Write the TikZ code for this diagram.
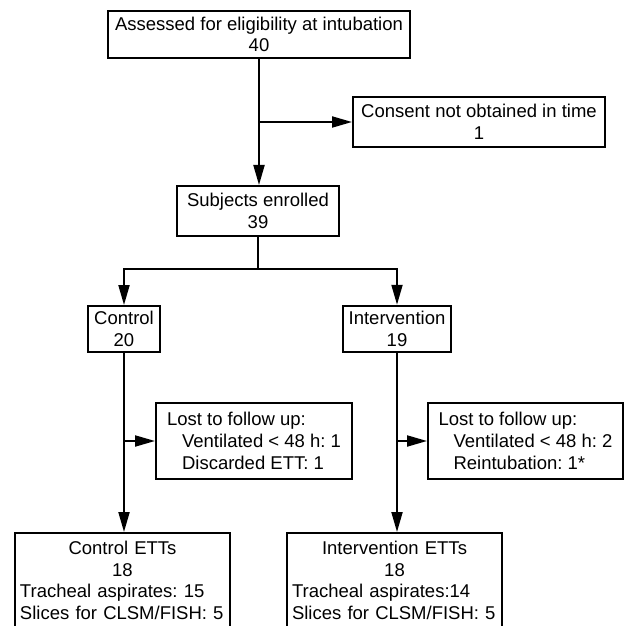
\documentclass[tikz,border=0pt]{standalone}
\usepackage{fontspec}
\setmainfont{Liberation Sans}
\usepackage{tikz}
\usetikzlibrary{arrows.meta}

\newcommand{\flowfont}{\fontsize{18.5bp}{21.7bp}\selectfont\frenchspacing}
\newcommand{\lostindent}{\hspace*{15bp}}

\begin{document}
\begin{tikzpicture}[x=1bp,y=-1bp,line width=2bp]
\tikzstyle{flowbox}=[draw,inner sep=0pt,align=center,font=\flowfont]
\tikzstyle{lostbox}=[flowbox,align=left,minimum width=196bp,minimum height=76bp]
\tikzstyle{ettbox}=[flowbox,align=left,text width=205bp,inner xsep=5bp,inner ysep=8bp,anchor=north]
\tikzstyle{flowarrow}=[line width=2bp,-{Triangle[length=20bp,width=11bp]}]

\useasboundingbox (0,0) rectangle (625,626);
\clip (0,0) rectangle (625,626);

% screening and enrolment
\node [flowbox,minimum width=302bp,minimum height=47bp] (assess) at (259,34.5)
    {Assessed for eligibility at intubation\\40};
\node [flowbox,minimum width=252bp,minimum height=50bp] (consent) at (479,122)
    {Consent not obtained in time\\1};
\node [flowbox,minimum width=162bp,minimum height=50bp] (enrolled) at (258,211)
    {Subjects enrolled\\39};

% groups
\node [flowbox,minimum width=72bp,minimum height=46bp] (control) at (124,329) {Control\\20};
\node [flowbox,minimum width=108bp,minimum height=46bp,line width=2.5bp] (interv) at (397,329) {Intervention\\19};

\node [lostbox] (lostC) at (254,441)
    {Lost to follow up:\\\lostindent Ventilated < 48 h: 1\\\lostindent Discarded ETT: 1};
\node [lostbox,minimum width=195bp] (lostI) at (525.5,441)
    {Lost to follow up:\\\lostindent Ventilated < 48 h: 2\\\lostindent Reintubation: 1*};

\node [ettbox] (ettC) at (122.5,532)
    {\makebox[205bp][c]{Control ETTs}\\\makebox[205bp][c]{18}\\Tracheal aspirates: 15\\Slices for CLSM/FISH: 5};
\node [ettbox] (ettI) at (394.5,532)
    {\makebox[205bp][c]{Intervention ETTs}\\\makebox[205bp][c]{18}\\Tracheal aspirates:14\\Slices for CLSM/FISH: 5};

% connectors
\coordinate (c1) at (assess.south |- consent.west);
\draw[flowarrow] (assess.south) -- (assess.south |- enrolled.north);
\draw[flowarrow] (c1) -- (consent.west);

\draw (enrolled.south) -- ++(0,32) coordinate (split);
\draw[flowarrow] (split) -| (control.north);
\draw[flowarrow] (split) -| (interv.north);

\coordinate (c2) at (control.south |- lostC.west);
\coordinate (c3) at (interv.south |- lostI.west);
\draw[flowarrow] (control.south) -- (control.south |- ettC.north);
\draw[flowarrow] (c2) -- (lostC.west);
\draw[flowarrow] (interv.south) -- (interv.south |- ettI.north);
\draw[flowarrow] (c3) -- (lostI.west);
\end{tikzpicture}
\end{document}
